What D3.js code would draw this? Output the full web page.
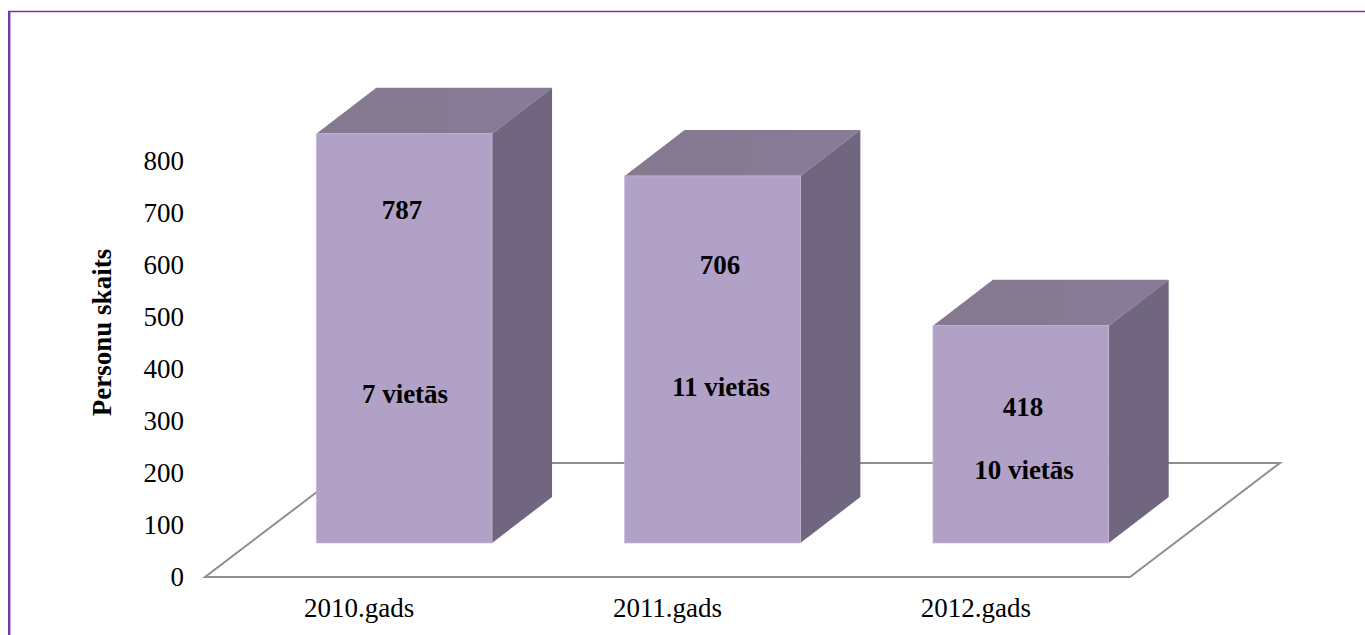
<!DOCTYPE html>
<html>
<head>
<meta charset="utf-8">
<script src="https://cdn.jsdelivr.net/npm/d3@7"></script>
<style>
  html, body { margin: 0; padding: 0; background: #fff; overflow: hidden; }
  text { font-family: "Liberation Serif", serif; fill: #000; }
</style>
</head>
<body>
<svg id="chart" width="1365" height="635"></svg>
<script>
// --- data ---
const years  = ['2010.gads', '2011.gads', '2012.gads'];
const counts = [787, 706, 418];
const places = ['7 vietās', '11 vietās', '10 vietās'];
const yTicks = [0, 100, 200, 300, 400, 500, 600, 700, 800];

const svg = d3.select('#chart');
const fontSize = 27;

// page frame, only top and left show in the crop
svg.append('line')
  .attr('x1', 9.2).attr('x2', 9.2).attr('y1', 11).attr('y2', 635)
  .attr('stroke', '#7438ac')
  .attr('stroke-width', 2.4);
svg.append('line')
  .attr('x1', 8).attr('x2', 1365).attr('y1', 11.5).attr('y2', 11.5)
  .attr('stroke', '#7438ac')
  .attr('stroke-width', 1.5);

const x = d3.scaleBand().domain(years).range([205, 1130]).paddingInner(0.43).paddingOuter(0.215);
const y = d3.scaleLinear().domain([0, 800]).range([577, 161]);

// oblique projection of the 3d floor
const floorDx = 150, floorDy = 114;
const insetDx = 45,  insetDy = 34;   // bar front sits this far back on the floor
const depthDx = 60,  depthDy = 46;   // bar depth

const floor = d3.path();
floor.moveTo(x.range()[0], y(0));
floor.lineTo(x.range()[1], y(0));
floor.lineTo(x.range()[1] + floorDx, y(0) - floorDy);
floor.lineTo(x.range()[0] + floorDx, y(0) - floorDy);
floor.closePath();
svg.append('path')
  .attr('d', floor.toString())
  .attr('fill', '#fff')
  .attr('stroke', '#8f8f8f')
  .attr('stroke-width', 2);

const defs = svg.append('defs');
const topGrad = defs.append('linearGradient').attr('id', 'top-face');
topGrad.append('stop').attr('offset', '0%').attr('stop-color', '#84798f');
topGrad.append('stop').attr('offset', '100%').attr('stop-color', '#887b98');

const poly = pts => pts.map(p => p.join(',')).join(' ');

const bars = svg.append('g').selectAll('g')
  .data(years.map((year, i) => ({ year, count: counts[i] })))
  .enter().append('g');

bars.each(function (d) {
  const g = d3.select(this);
  const l = x(d.year) + insetDx;
  const r = l + x.bandwidth();
  const t = y(d.count) - insetDy;
  const b = y(0) - insetDy;

  g.append('polygon')
    .attr('points', poly([[l, t], [r, t], [r + depthDx, t - depthDy], [l + depthDx, t - depthDy]]))
    .attr('fill', 'url(#top-face)');
  g.append('polygon')
    .attr('points', poly([[r, t], [r + depthDx, t - depthDy], [r + depthDx, b - depthDy], [r, b]]))
    .attr('fill', '#71667f');
  g.append('rect')
    .attr('x', l).attr('y', t)
    .attr('width', r - l).attr('height', b - t)
    .attr('fill', '#b2a1c7')
    .attr('stroke', '#c6b9d6')
    .attr('stroke-width', 0.7);
});

// axes: labels only
const yAxis = svg.append('g')
  .attr('transform', 'translate(184,-0.5)')
  .call(d3.axisLeft(y).tickValues(yTicks).tickSize(0).tickPadding(0));
yAxis.select('.domain').remove();
yAxis.selectAll('text').style('font-size', fontSize + 'px').style('font-family', '"Liberation Serif", serif');

const xAxis = svg.append('g')
  .attr('transform', 'translate(0,597.5)')
  .call(d3.axisBottom(x).tickSize(0).tickPadding(0));
xAxis.select('.domain').remove();
xAxis.selectAll('text').style('font-size', fontSize + 'px').style('font-family', '"Liberation Serif", serif');

svg.append('text')
  .attr('transform', 'translate(111,332.5) rotate(-90)')
  .attr('text-anchor', 'middle')
  .attr('font-size', fontSize)
  .attr('font-weight', 'bold')
  .text('Personu skaits');

// hand placed annotations inside the bars
const countLabelAt = [[402, 210], [720, 265], [1023, 407]];
const placeLabelAt = [[405, 394], [721, 387], [1024, 470]];

svg.append('g').selectAll('text')
  .data(counts)
  .enter().append('text')
  .attr('x', (_, i) => countLabelAt[i][0])
  .attr('y', (_, i) => countLabelAt[i][1])
  .attr('dy', '0.35em')
  .attr('text-anchor', 'middle')
  .attr('font-size', fontSize)
  .attr('font-weight', 'bold')
  .text(d => d);

svg.append('g').selectAll('text')
  .data(places)
  .enter().append('text')
  .attr('x', (_, i) => placeLabelAt[i][0])
  .attr('y', (_, i) => placeLabelAt[i][1])
  .attr('dy', '0.35em')
  .attr('text-anchor', 'middle')
  .attr('font-size', fontSize)
  .attr('font-weight', 'bold')
  .text(d => d);
</script>
</body>
</html>
